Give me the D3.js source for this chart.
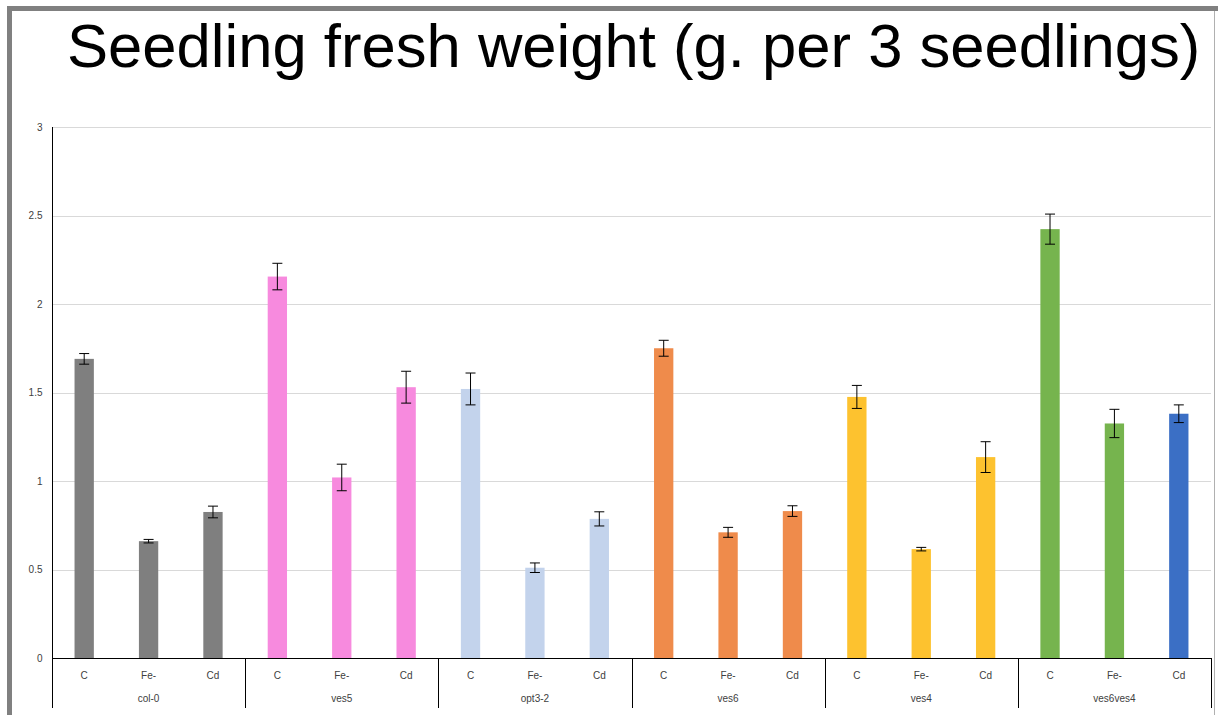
<!DOCTYPE html>
<html>
<head>
<meta charset="utf-8">
<script src="https://cdn.jsdelivr.net/npm/d3@7"></script>
<style>
  html, body { margin: 0; padding: 0; background: #fff; }
  svg { display: block; }
</style>
</head>
<body>
<div id="chart"></div>
<script>
const genotypes = ["col-0", "ves5", "opt3-2", "ves6", "ves4", "ves6ves4"];
const treatments = ["C", "Fe-", "Cd"];
// fresh weight per genotype, in treatment order C, Fe-, Cd
const weights = [
  [1.69, 0.66, 0.825],
  [2.155, 1.02, 1.53],
  [1.52, 0.51, 0.786],
  [1.75, 0.71, 0.83],
  [1.475, 0.615, 1.135],
  [2.423, 1.325, 1.38]
];
const errors = [
  [0.03, 0.01, 0.033],
  [0.075, 0.075, 0.09],
  [0.09, 0.027, 0.04],
  [0.045, 0.028, 0.03],
  [0.065, 0.01, 0.087],
  [0.085, 0.08, 0.05]
];
const barColors = [
  ["#7f7f7f", "#7f7f7f", "#7f7f7f"],
  ["#f78ade", "#f78ade", "#f78ade"],
  ["#c3d3ec", "#c3d3ec", "#c3d3ec"],
  ["#ef8b4b", "#ef8b4b", "#ef8b4b"],
  ["#fdc22f", "#fdc22f", "#fdc22f"],
  ["#76b44e", "#76b44e", "#3b6fc5"]
];
const yTicks = [0, 0.5, 1, 1.5, 2, 2.5, 3];
const title = "Seedling fresh weight (g. per 3 seedlings)";

const width = 1218, height = 715;
const plot = { left: 52, right: 1211, top: 127, bottom: 658 };

const svg = d3.select("#chart").append("svg")
  .attr("width", width)
  .attr("height", height);

// slide frame
svg.append("rect").attr("x", 0).attr("y", 0).attr("width", width).attr("height", height).attr("fill", "#fff");
svg.append("rect").attr("x", 7).attr("y", 6).attr("width", 5).attr("height", height - 6).attr("fill", "#808080");
svg.append("rect").attr("x", 7).attr("y", 6).attr("width", width - 7).attr("height", 5).attr("fill", "#808080");
svg.append("line").attr("x1", 1214.5).attr("x2", 1214.5).attr("y1", 11).attr("y2", height)
  .attr("stroke", "#b0b0b0").attr("stroke-width", 1);

svg.append("text")
  .attr("x", 67).attr("y", 67)
  .attr("font-family", "Liberation Sans, Arial, sans-serif")
  .attr("font-size", 61.6)
  .attr("fill", "#000")
  .text(title);

const y = d3.scaleLinear().domain([0, 3]).range([plot.bottom, plot.top]);
const xGroup = d3.scaleBand().domain(genotypes).range([plot.left, plot.right]).padding(0);
const xSub = d3.scaleBand().domain(treatments).range([0, xGroup.bandwidth()])
  .paddingInner(0.7).paddingOuter(0.35);

// gridlines
svg.append("g").selectAll("line")
  .data(yTicks.filter(t => t > 0))
  .join("line")
  .attr("x1", plot.left).attr("x2", plot.right)
  .attr("y1", d => Math.round(y(d)) + 0.5).attr("y2", d => Math.round(y(d)) + 0.5)
  .attr("stroke", "#d9d9d9").attr("stroke-width", 1);

// y axis
const yAxis = svg.append("g")
  .attr("transform", `translate(${plot.left + 0.5},0)`)
  .call(d3.axisLeft(y).tickValues(yTicks).tickSize(0).tickPadding(10).tickFormat(d3.format("")));
yAxis.select(".domain").attr("stroke", "#000").attr("d", `M0,${plot.top}V${plot.bottom}`);
yAxis.selectAll("text")
  .attr("font-family", "Liberation Sans, Arial, sans-serif")
  .attr("font-size", 10)
  .attr("fill", "#404040");

// bars
const rows = genotypes.flatMap((g, gi) => treatments.map((t, ti) => ({
  g, t, v: weights[gi][ti], e: errors[gi][ti], c: barColors[gi][ti]
})));

const bars = svg.append("g").selectAll("g")
  .data(rows)
  .join("g")
  .attr("transform", d => `translate(${xGroup(d.g) + xSub(d.t)},0)`);

bars.append("rect")
  .attr("x", 0)
  .attr("width", xSub.bandwidth())
  .attr("y", d => y(d.v))
  .attr("height", d => y(0) - y(d.v))
  .attr("fill", d => d.c);

const bw = xSub.bandwidth();
bars.append("line")
  .attr("x1", bw / 2).attr("x2", bw / 2)
  .attr("y1", d => y(d.v + d.e)).attr("y2", d => y(d.v - d.e))
  .attr("stroke", "#000").attr("stroke-width", 1);
bars.selectAll(".cap")
  .data(d => [d.v + d.e, d.v - d.e])
  .join("line")
  .attr("class", "cap")
  .attr("x1", bw / 2 - 5).attr("x2", bw / 2 + 5)
  .attr("y1", d => y(d)).attr("y2", d => y(d))
  .attr("stroke", "#000").attr("stroke-width", 1);

// x axis: baseline, dividers, labels
const xAxis = svg.append("g");
xAxis.append("line")
  .attr("x1", plot.left).attr("x2", plot.right)
  .attr("y1", plot.bottom + 0.5).attr("y2", plot.bottom + 0.5)
  .attr("stroke", "#000");
const edges = genotypes.map(g => xGroup(g)).concat([plot.right]);
xAxis.selectAll(".divider")
  .data(edges)
  .join("line")
  .attr("class", "divider")
  .attr("x1", d => Math.round(d) + 0.5).attr("x2", d => Math.round(d) + 0.5)
  .attr("y1", plot.bottom).attr("y2", 708)
  .attr("stroke", "#000");

xAxis.selectAll(".sub-label")
  .data(rows)
  .join("text")
  .attr("class", "sub-label")
  .attr("x", d => xGroup(d.g) + xSub(d.t) + bw / 2)
  .attr("y", 679)
  .attr("text-anchor", "middle")
  .attr("font-family", "Liberation Sans, Arial, sans-serif")
  .attr("font-size", 10)
  .attr("fill", "#404040")
  .text(d => d.t);

xAxis.selectAll(".group-label")
  .data(genotypes)
  .join("text")
  .attr("class", "group-label")
  .attr("x", d => xGroup(d) + xGroup.bandwidth() / 2)
  .attr("y", 702)
  .attr("text-anchor", "middle")
  .attr("font-family", "Liberation Sans, Arial, sans-serif")
  .attr("font-size", 10)
  .attr("fill", "#404040")
  .text(d => d);
</script>
</body>
</html>
